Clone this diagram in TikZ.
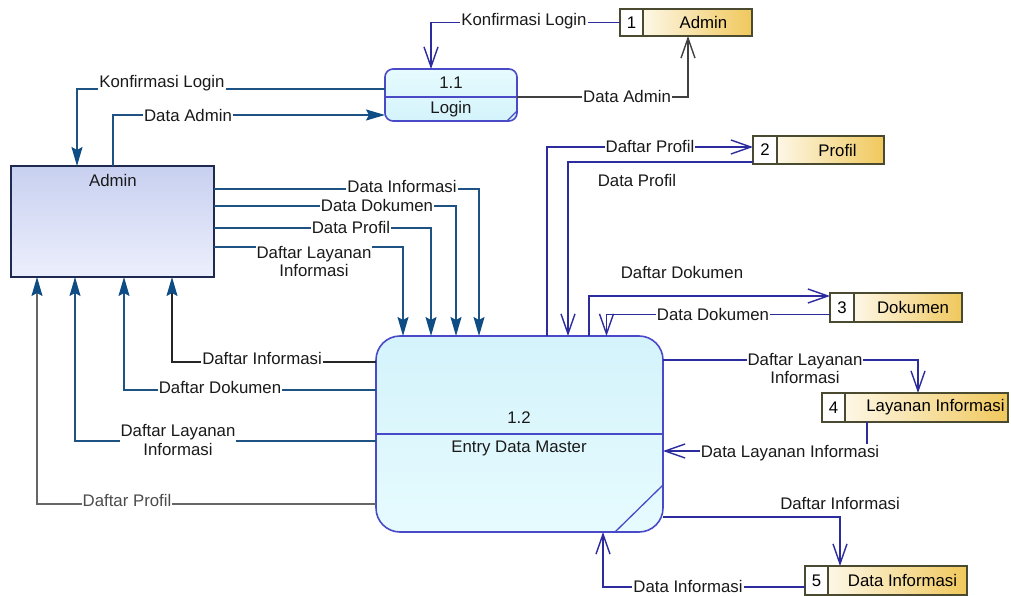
\documentclass[tikz,border=0pt]{standalone}
\usepackage{fontspec}
\setmainfont{Liberation Sans}
\usetikzlibrary{arrows.meta,calc}
\definecolor{entline}{HTML}{1D5283}
\definecolor{enttip}{HTML}{0E4C85}
\definecolor{stline}{HTML}{2C2C9E}
\definecolor{procborder}{HTML}{4A4AC8}
\definecolor{entborder}{HTML}{1E2A50}
\definecolor{stborder}{HTML}{4A4A30}
\definecolor{entA}{HTML}{C8D0F0}
\definecolor{entB}{HTML}{ECEFFC}
\definecolor{procA}{HTML}{D4F3FB}
\definecolor{procB}{HTML}{E6FBFE}
\definecolor{storeA}{HTML}{FDF7E6}
\definecolor{storeB}{HTML}{F0C85C}
\definecolor{labtext}{HTML}{1A1A1A}
\begin{document}
\begin{tikzpicture}[x=1pt,y=-1pt,
  font=\fontsize{16.8}{18}\selectfont,
  proc/.style={draw=procborder, line width=1.6pt, outer sep=0pt, inner sep=0pt, anchor=north west},
  ent/.style={draw=entborder, line width=1.6pt, top color=entA, bottom color=entB, outer sep=0pt, inner sep=0pt, anchor=north west},
  numbox/.style={draw=stborder, line width=1.3pt, fill=white, outer sep=0pt, inner sep=0pt, anchor=north west},
  namebox/.style={draw=stborder, line width=1.3pt, left color=storeA, right color=storeB, outer sep=0pt, inner sep=0pt, anchor=north west},
  eflow/.style={draw=entline, line width=1.4pt, -{Stealth[length=19pt,width=11pt,inset=3pt,color=enttip]}},
  sflow/.style={draw=stline, line width=1.4pt, -{Straight Barb[length=20pt,width=14pt]}},
  lab/.style={fill=white, inner sep=1pt, text=labtext},
  ptext/.style={inner sep=0pt, text=labtext}
]
\useasboundingbox (0,0) rectangle (1011,596);
\fill[white] (0,0) rectangle (1011,596);

% ---------- processes ----------
\node[proc, rounded corners=8pt, top color=procB, bottom color=procA,
      minimum width=132pt, minimum height=52pt] (lp) at (385,69) {};
\draw[procborder, line width=1.6pt] ([yshift=-2pt]lp.west) -- ([yshift=-2pt]lp.east);
\draw[procborder, line width=1.2pt] ([yshift=10pt]lp.south east) -- ([xshift=-10pt]lp.south east);
\node[ptext] (t11) at (451,83) {1.1};
\node[ptext] (tlogin) at (451,109) {Login};

\node[proc, rounded corners=24pt, top color=procA, bottom color=procB,
      minimum width=287pt, minimum height=196pt] (p12) at (376,336) {};
\draw[procborder, line width=1.6pt] (p12.west) -- (p12.east);
\draw[procborder, line width=1.3pt] ([yshift=47pt]p12.south east) -- ([xshift=-48pt]p12.south east);
\node[ptext] (t12) at (519,418) {1.2};
\node[ptext] (tedm) at (519,448) {Entry Data Master};

% ---------- external entity ----------
\node[ent, minimum width=203pt, minimum height=111pt] (adm) at (11,166) {};
\node[ptext] (tadm) at (113,180) {Admin};

% ---------- data stores ----------
\node[numbox, minimum width=23pt, minimum height=27pt] (s1n) at (620,9) {1};
\node[namebox, minimum width=109pt, minimum height=27pt] (s1) at (643,9) {\hspace*{12pt}Admin};
\node[numbox, minimum width=24pt, minimum height=28pt] (s2n) at (753,136) {2};
\node[namebox, minimum width=107pt, minimum height=28pt] (s2) at (777,136) {\hspace*{14pt}Profil};
\node[numbox, minimum width=24pt, minimum height=29pt] (s3n) at (830,293) {3};
\node[namebox, minimum width=108pt, minimum height=29pt] (s3) at (854,293) {\hspace*{10pt}Dokumen};
\node[numbox, minimum width=23pt, minimum height=29pt] (s4n) at (822,393) {4};
\node[namebox, minimum width=163pt, minimum height=29pt] (s4) at (845,393) {\hspace*{18pt}Layanan Informasi};
\node[numbox, minimum width=23pt, minimum height=29pt] (s5n) at (805,566) {5};
\node[namebox, minimum width=139pt, minimum height=29pt] (s5) at (828,566) {\hspace*{10pt}Data Informasi};

% ---------- flows: login ----------
\draw[sflow] (s1n.west) -| ([xshift=-20pt]lp.north);
\draw[sflow, draw=black!75] ([yshift=-2pt]lp.east) -| ([xshift=-9.5pt]s1.south);
\draw[eflow] ([yshift=6pt]lp.west) -| ([xshift=-35.5pt]adm.north);
\draw[eflow] ([xshift=0.5pt]adm.north) |- ([yshift=-20pt]lp.west);

% ---------- flows: admin -> 1.2 ----------
\draw[eflow] ([yshift=32.5pt]adm.east) -| ([xshift=-40.5pt]p12.north);
\draw[eflow] ([yshift=15.5pt]adm.east) -| ([xshift=-63.5pt]p12.north);
\draw[eflow] ([yshift=-6.5pt]adm.east) -| ([xshift=-88.5pt]p12.north);
\draw[eflow] ([yshift=-25.5pt]adm.east) -| ([xshift=-116.5pt]p12.north);

% ---------- flows: 1.2 -> admin ----------
\draw[eflow, draw=black!85] ([yshift=72pt]p12.west) -| ([xshift=59.5pt]adm.south);
\draw[eflow] ([yshift=44pt]p12.west) -| ([xshift=11.5pt]adm.south);
\draw[eflow] ([yshift=-7pt]p12.west) -| ([xshift=-37.5pt]adm.south);
\draw[eflow, draw=black!60] ([yshift=-70pt]p12.west) -| ([xshift=-75.5pt]adm.south);

% ---------- flows: 1.2 <-> stores ----------
\draw[sflow] ([xshift=27.5pt]p12.north) |- ([yshift=3pt]s2n.west);
\draw[sflow] ([yshift=-12pt]s2n.west) -| ([xshift=48.5pt]p12.north);
\draw[sflow] ([xshift=69.5pt]p12.north) |- ([yshift=11.5pt]s3n.west);
\draw[sflow] ([yshift=-7pt]s3n.west) -| ([xshift=87pt]p12.north);
\draw[sflow] ([yshift=74pt]p12.east) -| ([xshift=-8.5pt]s4.north);
\draw[sflow] ([xshift=-59.5pt]s4.south) |- ([yshift=-17pt]p12.east);
\draw[sflow] ([yshift=-83pt]p12.east) -| ([xshift=-57.5pt]s5.north);
\draw[sflow] ([yshift=-6.5pt]s5n.west) -| ([xshift=83.5pt]p12.south);

% ---------- labels ----------
\node[lab] (lA) at (524,21) {Konfirmasi Login};
\node[lab] (lB) at (627,96) {Data Admin};
\node[lab] (lC) at (162,83) {Konfirmasi Login};
\node[lab] (lD) at (188,115) {Data Admin};
\node[lab] (lE) at (402,186) {Data Informasi};
\node[lab] (lF) at (377,205) {Data Dokumen};
\node[lab] (lG) at (351,227) {Data Profil};
\node[lab, align=center, anchor=north] (lH) at (314,245) {Daftar Layanan\\Informasi};
\node[lab] (lI) at (650,146) {Daftar Profil};
\node[lab] (lJ) at (637,180) {Data Profil};
\node[lab] (lK) at (682,272) {Daftar Dokumen};
\node[lab] (lL) at (713,314) {Data Dokumen};
\node[lab, align=center, anchor=north] (lM) at (805,352) {Daftar Layanan\\Informasi};
\node[lab] (lN) at (790,453) {Data Layanan Informasi};
\node[lab] (lO) at (840,503) {Daftar Informasi};
\node[lab] (lP) at (688,586) {Data Informasi};
\node[lab] (lQ1) at (262,358) {Daftar Informasi};
\node[lab] (lQ2) at (220,387) {Daftar Dokumen};
\node[lab, align=center] (lQ3) at (178,440) {Daftar Layanan\\Informasi};
\node[lab, text=black!70] (lQ4) at (127,500) {Daftar Profil};
\end{tikzpicture}
\end{document}
